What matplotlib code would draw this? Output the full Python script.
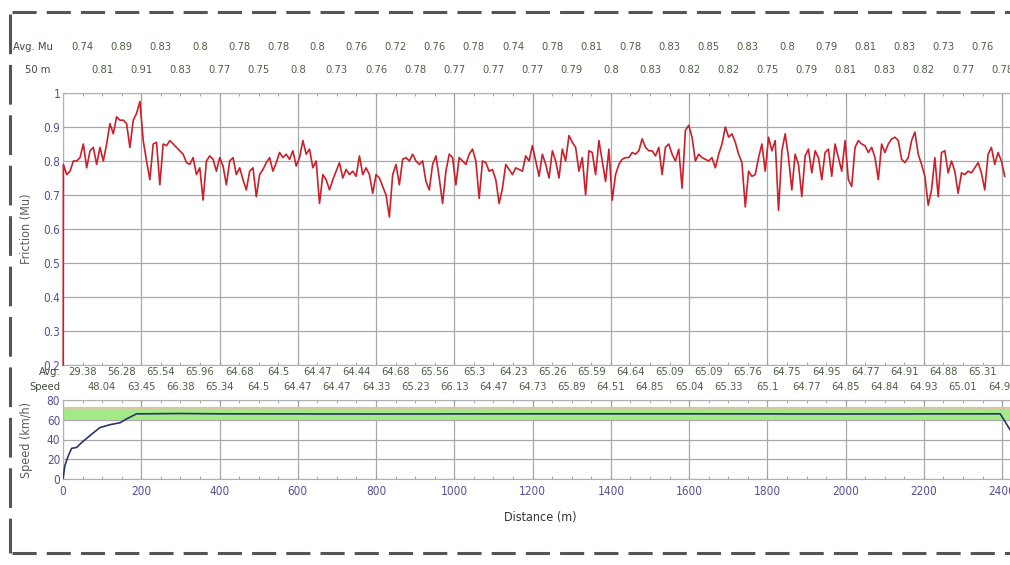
import numpy as np
import matplotlib
matplotlib.use("Agg")
import matplotlib.pyplot as plt
from matplotlib.lines import Line2D
from matplotlib.transforms import blended_transform_factory

plt.rcParams['font.family'] = ['DejaVu Sans']
plt.rcParams['font.stretch'] = 'condensed'

# --- data -------------------------------------------------------------------
# friction trace, one sample every 8.5 m (first point is the start-up value)
friction_mu = [
    0.20,
    0.79, 0.76, 0.77, 0.80, 0.80, 0.81, 0.85, 0.78, 0.83, 0.84,
    0.79, 0.84, 0.80, 0.85, 0.91, 0.88, 0.93, 0.92, 0.92, 0.91,
    0.84, 0.92, 0.94, 0.975, 0.86, 0.80, 0.745, 0.85, 0.855, 0.73,
    0.85, 0.845, 0.86, 0.85, 0.84, 0.83, 0.82, 0.795, 0.79, 0.81,
    0.76, 0.78, 0.685, 0.80, 0.815, 0.805, 0.77, 0.81, 0.785, 0.73,
    0.80, 0.81, 0.76, 0.78, 0.745, 0.715, 0.77, 0.78, 0.695, 0.76,
    0.775, 0.795, 0.81, 0.77, 0.795, 0.825, 0.81, 0.82, 0.805, 0.83,
    0.785, 0.81, 0.86, 0.82, 0.835, 0.78, 0.80, 0.675, 0.76, 0.745,
    0.715, 0.745, 0.77, 0.795, 0.75, 0.775, 0.76, 0.77, 0.755, 0.815,
    0.76, 0.78, 0.76, 0.705, 0.76, 0.75, 0.725,
    0.70, 0.635, 0.76, 0.79, 0.73, 0.805, 0.81, 0.80, 0.82, 0.80,
    0.79, 0.80, 0.74, 0.715, 0.79, 0.815, 0.75, 0.675, 0.77, 0.82,
    0.81, 0.73, 0.81, 0.80, 0.79, 0.82, 0.835, 0.80, 0.69, 0.80,
    0.795, 0.77, 0.775, 0.745, 0.675, 0.72, 0.79, 0.775, 0.76, 0.78,
    0.775, 0.77, 0.815, 0.80, 0.845, 0.80, 0.755, 0.82, 0.79, 0.75,
    0.83, 0.80, 0.75, 0.835, 0.80, 0.875, 0.855, 0.84, 0.77, 0.81,
    0.70, 0.83, 0.825, 0.76, 0.86, 0.80, 0.74, 0.835, 0.685, 0.76,
    0.79, 0.805, 0.81, 0.81, 0.825, 0.82, 0.83, 0.865, 0.84, 0.83,
    0.83, 0.815, 0.84, 0.76, 0.84, 0.85, 0.82, 0.80, 0.835, 0.72,
    0.89, 0.905, 0.87, 0.80, 0.82, 0.81,
    0.805, 0.80, 0.81, 0.78, 0.82, 0.85, 0.90, 0.87, 0.88, 0.855,
    0.82, 0.795, 0.665, 0.77, 0.755, 0.76, 0.81, 0.85, 0.77, 0.87,
    0.83, 0.86, 0.655, 0.83, 0.88, 0.81, 0.715, 0.82, 0.79, 0.695,
    0.815, 0.835, 0.765, 0.83, 0.81, 0.745, 0.825, 0.835, 0.755, 0.85,
    0.81, 0.77, 0.86, 0.745, 0.725, 0.84, 0.86, 0.85, 0.845, 0.825,
    0.84, 0.81, 0.745, 0.85, 0.825, 0.85, 0.865, 0.87, 0.86, 0.805,
    0.795, 0.81, 0.86, 0.885, 0.82, 0.79, 0.755, 0.67, 0.715, 0.81,
    0.695, 0.825, 0.83, 0.765, 0.80, 0.77, 0.705, 0.765, 0.76, 0.77,
    0.765, 0.78, 0.795, 0.765, 0.715, 0.82, 0.84, 0.79, 0.825, 0.80,
    0.755,
]
sample_step = 8.5
friction_dist = np.concatenate([[0.5], 1.0 + sample_step * np.arange(len(friction_mu) - 1)])

speed_dist = [0, 5, 14, 22, 35, 48, 69, 94, 120, 146, 163, 188, 205, 300,
              400, 800, 1200, 1600, 2000, 2395, 2420]
speed_kmh = [0, 14, 24, 31, 32, 37, 44, 52, 55, 57, 61, 66, 66, 66.3,
             66, 65.8, 66, 66, 65.8, 66, 50]

# 100 m averages (top row) and 50 m offset averages (second row)
avg_mu_dist = list(range(50, 2400, 100))
avg_mu = [0.74, 0.89, 0.83, 0.8, 0.78, 0.78, 0.8, 0.76, 0.72, 0.76, 0.78, 0.74,
          0.78, 0.81, 0.78, 0.83, 0.85, 0.83, 0.8, 0.79, 0.81, 0.83, 0.73, 0.76]
mu50_dist = list(range(100, 2401, 100))
mu50 = [0.81, 0.91, 0.83, 0.77, 0.75, 0.8, 0.73, 0.76, 0.78, 0.77, 0.77, 0.77,
        0.79, 0.8, 0.83, 0.82, 0.82, 0.75, 0.79, 0.81, 0.83, 0.82, 0.77, 0.78]

avg_speed = [29.38, 56.28, 65.54, 65.96, 64.68, 64.5, 64.47, 64.44, 64.68, 65.56,
             65.3, 64.23, 65.26, 65.59, 64.64, 65.09, 65.09, 65.76, 64.75, 64.95,
             64.77, 64.91, 64.88, 65.31]
speed50 = [48.04, 63.45, 66.38, 65.34, 64.5, 64.47, 64.47, 64.33, 65.23, 66.13,
           64.47, 64.73, 65.89, 64.51, 64.85, 65.04, 65.33, 65.1, 64.77, 64.85,
           64.84, 64.93, 65.01, 64.93]

mu_ticks = [0.2, 0.3, 0.4, 0.5, 0.6, 0.7, 0.8, 0.9, 1.0]
mu_tick_labels = ['0.2', '0.3', '0.4', '0.5', '0.6', '0.7', '0.8', '0.9', '1']
speed_ticks = [0, 20, 40, 60, 80]
dist_ticks = list(range(0, 2401, 200))

# --- styling ----------------------------------------------------------------
W, H = 1010, 565
tick_col = '#5a4c96'
row_col = '#4d5f46'
grid_col = '#a8a8a8'
label_col = '#5c5c5c'
x_max = 2420
row_fs = 8


def fx(px):
    return px / W


def fy(py):
    return 1 - py / H


fig = plt.figure(figsize=(W / 100, H / 100), dpi=100)
fig.patch.set_facecolor('white')

ax_mu = fig.add_axes([fx(63), fy(365), 1 - fx(63), fy(93) - fy(365)])
ax_sp = fig.add_axes([fx(63), fy(479), 1 - fx(63), fy(400) - fy(479)])

for ax in (ax_mu, ax_sp):
    ax.set_xlim(0, x_max)
    ax.set_xticks(dist_ticks)
    ax.set_xticks(range(0, x_max, 50), minor=True)
    ax.grid(True, which='major', color=grid_col, lw=0.9)
    ax.set_axisbelow(True)
    for s in ax.spines.values():
        s.set_color('#b0b0b0')
        s.set_linewidth(0.8)
        s.set_zorder(1.5)
    ax.spines['right'].set_visible(False)
    ax.tick_params(which='both', direction='in', length=2.5, color='#999999',
                   top=True, labelsize=8.5, labelcolor=tick_col, pad=2)
    ax.tick_params(axis='y', length=0)

# friction panel
ax_mu.plot(friction_dist, friction_mu, color='#cc1f2a', lw=1.2, zorder=3,
           clip_on=False)
ax_mu.set_ylim(0.2, 1.0)
ax_mu.set_yticks(mu_ticks)
ax_mu.set_yticklabels(mu_tick_labels)
ax_mu.tick_params(axis='x', labelbottom=False)
ax_mu.set_ylabel('Friction (Mu)', color=label_col, fontsize=9)
ax_mu.yaxis.set_label_coords(-0.032, 0.5)

# speed panel with tolerance band
ax_sp.axhspan(60, 70.5, color='#a4ea88', lw=0, zorder=1)
ax_sp.axhline(71.5, color='#d6c8a2', lw=1.6, zorder=1)
ax_sp.plot(speed_dist, speed_kmh, color='#2b3468', lw=1.2, zorder=3)
ax_sp.set_ylim(0, 80)
ax_sp.set_yticks(speed_ticks)
ax_sp.set_ylabel('Speed (km/h)', color=label_col, fontsize=9)
ax_sp.yaxis.set_label_coords(-0.032, 0.5)
ax_sp.tick_params(axis='x', pad=4)

fig.text(fx(540), fy(517), 'Distance (m)', ha='center', va='center',
         fontsize=9, color='#333333')

# rows of section averages above each panel
tr_mu = blended_transform_factory(ax_mu.transData, fig.transFigure)
for d, v in zip(avg_mu_dist, avg_mu):
    ax_mu.text(d, fy(47), f'{v:g}', transform=tr_mu, ha='center', va='center',
               fontsize=row_fs, color=row_col, clip_on=False)
for d, v in zip(mu50_dist, mu50):
    ax_mu.text(d, fy(70), f'{v:g}', transform=tr_mu, ha='center', va='center',
               fontsize=row_fs, color=row_col, clip_on=False)
for d, v in zip(avg_mu_dist, avg_speed):
    ax_mu.text(d, fy(372), f'{v:g}', transform=tr_mu, ha='center', va='center',
               fontsize=row_fs, color=row_col, clip_on=False)
for d, v in zip(mu50_dist, speed50):
    ax_mu.text(d, fy(387), f'{v:g}', transform=tr_mu, ha='center', va='center',
               fontsize=row_fs, color=row_col, clip_on=False)

fig.text(fx(13), fy(47), 'Avg. Mu', ha='left', va='center', fontsize=row_fs, color='#3e4a3c')
fig.text(fx(25), fy(70), '50 m', ha='left', va='center', fontsize=row_fs, color='#3e4a3c')
fig.text(fx(61), fy(372), 'Avg.', ha='right', va='center', fontsize=row_fs, color='#3e4a3c')
fig.text(fx(61), fy(387), 'Speed', ha='right', va='center', fontsize=row_fs, color='#3e4a3c')

# dashed frame around the report area
frame = dict(transform=fig.transFigure, color='#555555', lw=2.2)
fig.add_artist(Line2D([fx(12), 1], [fy(12), fy(12)], ls=(0, (7.9, 3.3)), **frame))
fig.add_artist(Line2D([fx(12), 1], [fy(553), fy(553)], ls=(0, (7.9, 3.3)), **frame))
fig.add_artist(Line2D([fx(10), fx(10)], [fy(14), fy(553)], ls=(0, (13, 3.5)), **frame))

fig.savefig('out.png', dpi=100)
